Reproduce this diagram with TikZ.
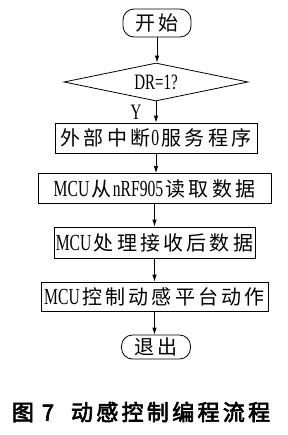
\documentclass[tikz,border=0pt]{standalone}
\usepackage{fontspec}
\usetikzlibrary{arrows.meta,shapes.geometric}
\setmainfont{Liberation Serif}
\newfontfamily\cjk[LetterSpace=16]{Noto Sans CJK SC}
\newfontfamily\capfont[LetterSpace=15,FakeBold=3]{Noto Sans CJK SC}
\newfontfamily\lat[FakeStretch=0.68]{Liberation Serif}
\newcommand\lt[1]{{\lat\fontsize{23}{23}\selectfont #1}\kern2.5pt}

\begin{document}
\begin{tikzpicture}[x=1pt,y=-1pt,>={Latex[length=7pt,width=4.5pt]},line width=0.8pt,
    term/.style={draw,rectangle,rounded corners=11pt,inner sep=0pt,minimum height=24pt},
    stepbox/.style={draw,rectangle,inner sep=0pt,minimum height=30pt},
    test/.style={draw,diamond,aspect=4.8,inner sep=0pt,minimum width=184pt,minimum height=38pt},
    txt/.style={font=\cjk\fontsize{20}{20}\selectfont}]
        \useasboundingbox (0,0) rectangle (287,435);
        \node[term,txt,minimum width=68pt,minimum height=28pt] (start) at (157,23) {开始};
        \node[test,font=\lat\fontsize{22}{22}\selectfont] (dr) at (156,82) {DR=1?};
        \node[font=\lat\fontsize{22}{22}\selectfont] (yes) at (136,112) {Y};
        \node[stepbox,txt,minimum width=202pt] (isr) at (156,138) {外部中断\kern1pt\lt{0}服务程序};
        \node[stepbox,txt,minimum width=233pt] (rd) at (154.5,188.5) {\lt{MCU}从\kern1pt\lt{nRF905}读取数据};
        \node[stepbox,txt,minimum width=201pt,minimum height=31pt] (proc) at (154.5,242.5) {\lt{MCU}处理接收后数据};
        \node[stepbox,txt,minimum width=227pt,minimum height=29pt] (ctl) at (154.5,296.5) {\lt{MCU}控制动感平台动作};
        \node[term,txt,minimum width=69pt] (stop) at (156,347) {退出};
        \foreach \a/\b in {start/dr,dr/isr,isr/rd,rd/proc,proc/ctl,ctl/stop}{
          \draw[->] (\a.south) -- (\a.south |- \b.north);
        }
        \node[font=\capfont\fontsize{22}{22}\selectfont] (cap) at (141,412)
              {图\hspace{8pt}7\hspace{17pt}动感控制编程流程};
      \end{tikzpicture}
\end{document}
